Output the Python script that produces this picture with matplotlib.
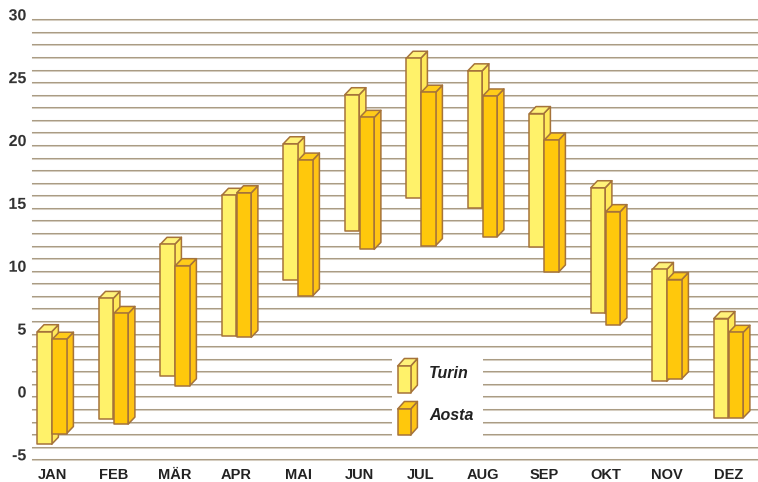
import matplotlib
matplotlib.use("Agg")
import matplotlib.pyplot as plt
from matplotlib.patches import Polygon, Rectangle
from matplotlib.transforms import ScaledTranslation
import matplotlib.patheffects as pe

months = ["JAN", "FEB", "MÄR", "APR", "MAI", "JUN", "JUL", "AUG", "SEP", "OKT", "NOV", "DEZ"]
turin_low = [-3.8, -1.8, 1.65, 4.8, 9.3, 13.2, 15.8, 15.0, 11.9, 6.6, 1.2, -1.7]
turin_high = [5.15, 7.8, 12.1, 16.0, 20.1, 24.0, 26.9, 25.9, 22.5, 16.6, 10.1, 6.2]
aosta_low = [-2.95, -2.2, 0.85, 4.7, 8.0, 11.7, 12.0, 12.7, 9.9, 5.7, 1.4, -1.7]
aosta_high = [4.55, 6.6, 10.4, 16.2, 18.8, 22.2, 24.2, 23.9, 20.4, 14.7, 9.3, 5.1]
series_names = ["Turin", "Aosta"]
yticks = [-5, 0, 5, 10, 15, 20, 25, 30]

# styles
EDGE = "#a5733a"
C_TURIN = ("#fff26a", "#fff27a", "#ffe95a")   # front, top, side
C_AOSTA = ("#ffc80c", "#ffcc1a", "#ffc414")
GRID_DARK = "#aa9c84"
GRID_LIGHT = "#d6cec2"

plt.rcParams["font.family"] = ["Liberation Sans", "DejaVu Sans"]

W, H = 758, 482
fig = plt.figure(figsize=(W / 100, H / 100), dpi=100)
ax_left, ax_right = 32, 758
ax_top, ax_bot = 19.3, 459.3
ax = fig.add_axes([ax_left / W, 1 - ax_bot / H, (ax_right - ax_left) / W, (ax_bot - ax_top) / H])

step_px = 61.5
xmin = -(52 - ax_left) / step_px
xmax = (ax_right - 52) / step_px
ax.set_xlim(xmin, xmax)
ax.set_ylim(-5, 30)

px_per_x = (ax_right - ax_left) / (xmax - xmin)
px_per_y = (ax_bot - ax_top) / 35.0
DX = 6.7 / px_per_x
DY = 7.0 / px_per_y
BW = 14.4 / px_per_x
OFF = 7.5 / px_per_x

# gridlines (double line, embossed)
off_tr = ScaledTranslation(0, -1.0 / 100, fig.dpi_scale_trans)
for v in range(-5, 31):
    ax.plot([0, 1], [v, v], color=GRID_LIGHT, lw=0.75, zorder=0.5, clip_on=False,
            transform=ax.get_yaxis_transform() + off_tr)
    ax.plot([0, 1], [v, v], color=GRID_DARK, lw=0.75, zorder=0.6, clip_on=False,
            transform=ax.get_yaxis_transform())


def box3d(ax, x0, lo, w, hi, dx, dy, colors, transform, z):
    front, top, side = colors
    kw = dict(edgecolor=EDGE, lw=1.1, joinstyle="round", transform=transform, zorder=z)
    ax.add_patch(Polygon([(x0 + w, lo), (x0 + w + dx, lo + dy), (x0 + w + dx, hi + dy), (x0 + w, hi)],
                         closed=True, facecolor=side, **kw))
    ax.add_patch(Polygon([(x0, hi), (x0 + w, hi), (x0 + w + dx, hi + dy), (x0 + dx, hi + dy)],
                         closed=True, facecolor=top, **kw))
    ax.add_patch(Rectangle((x0, lo), w, hi - lo, facecolor=front, **kw))


for i in range(len(months)):
    box3d(ax, i - OFF - BW / 2, turin_low[i], BW, turin_high[i], DX, DY, C_TURIN, ax.transData, 2 + i * 0.1)
    box3d(ax, i + OFF - BW / 2, aosta_low[i], BW, aosta_high[i], DX, DY, C_AOSTA, ax.transData, 2.05 + i * 0.1)

# legend (in axes fraction)
def fx(px):
    return (px - ax_left) / (ax_right - ax_left)

def fy(py):
    return (ax_bot - py) / (ax_bot - ax_top)

ax.add_patch(Rectangle((fx(392), fy(442)), fx(483) - fx(392), fy(350) - fy(442),
                       facecolor="white", edgecolor="none", transform=ax.transAxes, zorder=1))
ldx = 6.7 / (ax_right - ax_left)
ldy = 7.5 / (ax_bot - ax_top)
box3d(ax, fx(397.7), fy(392.7), fx(410.7) - fx(397.7), fy(366), ldx, ldy, C_TURIN, ax.transAxes, 5)
box3d(ax, fx(397.7), fy(435), fx(410.7) - fx(397.7), fy(409), ldx, ldy, C_AOSTA, ax.transAxes, 5)
ax.text(fx(429), fy(373), series_names[0], transform=ax.transAxes, fontsize=11.5,
        fontweight="bold", fontstyle="italic", color="#222222", va="center", ha="left", zorder=6)
ax.text(fx(429), fy(415), series_names[1], transform=ax.transAxes, fontsize=11.5,
        fontweight="bold", fontstyle="italic", color="#222222", va="center", ha="left", zorder=6)

# axes styling
for s in ax.spines.values():
    s.set_visible(False)
ax.set_xticks(range(len(months)))
ax.set_xticklabels(months, fontsize=10.5, fontweight="bold", color="#222222")
ax.tick_params(axis="x", length=0, pad=6.0)
ax.set_yticks(yticks)
ax.set_yticklabels([str(t) for t in yticks], fontsize=11.5, fontweight="bold", color="#333333")
ax.tick_params(axis="y", length=0, pad=4)
up = ScaledTranslation(0, 5 / 100, fig.dpi_scale_trans)
for lab in ax.get_yticklabels():
    lab.set_transform(lab.get_transform() + up)
    lab.set_path_effects([pe.withStroke(linewidth=2.5, foreground="white")])
ax.set_facecolor("white")

fig.savefig("out.png", dpi=100)
